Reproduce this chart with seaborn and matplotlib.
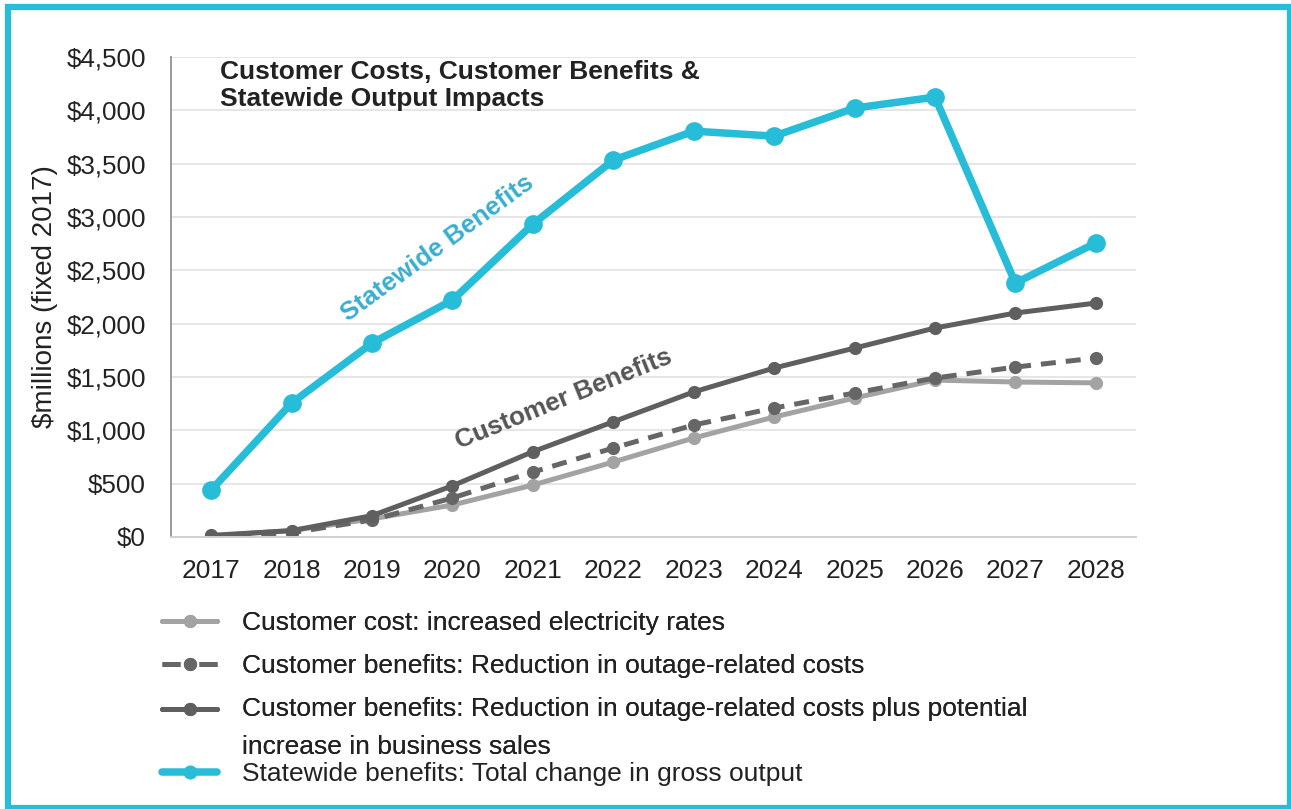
import matplotlib
matplotlib.use("Agg")
import numpy as np
import matplotlib.pyplot as plt
import seaborn as sns
import pandas as pd
from matplotlib.patches import Rectangle
from matplotlib.ticker import FixedLocator, FuncFormatter
from matplotlib.legend_handler import HandlerLine2D

# Annual values, $ millions (fixed 2017)
years = [2017, 2018, 2019, 2020, 2021, 2022, 2023, 2024, 2025, 2026, 2027, 2028]
customer_cost = [10, 60, 170, 300, 487, 703, 928, 1125, 1303, 1471, 1453, 1445]
outage_savings = [5, 40, 160, 366, 609, 834, 1050, 1209, 1350, 1490, 1593, 1678]
outage_plus_sales = [15, 60, 200, 480, 800, 1080, 1360, 1584, 1771, 1959, 2100, 2193]
statewide_output = [440, 1256, 1818, 2221, 2933, 3533, 3805, 3758, 4021, 4124, 2381, 2756]

series_labels = [
    "Customer cost: increased electricity rates",
    "Customer benefits: Reduction in outage-related costs",
    "Customer benefits: Reduction in outage-related costs plus potential\nincrease in business sales",
    "Statewide benefits: Total change in gross output",
]
y_ticks = [0, 500, 1000, 1500, 2000, 2500, 3000, 3500, 4000, 4500]

CYAN = "#27bcd8"
CYAN_TEXT = "#3aaed0"
DARK = "#5f5f5f"
MID = "#666666"
LIGHT = "#a3a3a3"
INK = "#222222"

sns.set_style("white")
plt.rcParams["font.family"] = ["Liberation Sans", "DejaVu Sans"]

df = pd.DataFrame({
    "year": years,
    "cost": customer_cost,
    "outage": outage_savings,
    "outage_sales": outage_plus_sales,
    "statewide": statewide_output,
})

fig = plt.figure(figsize=(12.91, 8.09), dpi=100)
ax = fig.add_axes([171 / 1291, 1 - 537 / 809, 965 / 1291, 480 / 809])

sns.lineplot(data=df, x="year", y="cost", ax=ax, color=LIGHT, lw=3.6,
             marker="o", markersize=9.5, markeredgewidth=0, label=series_labels[0])
sns.lineplot(data=df, x="year", y="outage", ax=ax, color=MID, lw=3.6,
             marker="o", markersize=9.5, markeredgewidth=0, label=series_labels[1])
ax.lines[-1].set_dashes((3, 2))
sns.lineplot(data=df, x="year", y="outage_sales", ax=ax, color=DARK, lw=3.6,
             marker="o", markersize=9.5, markeredgewidth=0, label=series_labels[2])
sns.lineplot(data=df, x="year", y="statewide", ax=ax, color=CYAN, lw=5.4,
             marker="o", markersize=13.5, markeredgewidth=0, label=series_labels[3])

ax.set_xlim(2016.5, 2028.5)
ax.set_ylim(0, 4500)

ax.set_yticks(y_ticks)
ax.yaxis.set_major_formatter(FuncFormatter(lambda v, p: f"${v:,.0f}"))
ax.set_xticks(years)
ax.set_xticklabels([str(y) for y in years])
ax.xaxis.set_minor_locator(FixedLocator([y - 0.5 for y in years] + [years[-1] + 0.5]))
ax.tick_params(axis="x", which="major", length=0, pad=16, labelsize=19, colors=INK)
ax.tick_params(axis="x", which="minor", length=8, width=1.2, color="#cccccc", direction="out")
ax.tick_params(axis="y", which="major", length=0, pad=18, labelsize=18.7, colors=INK)

ax.grid(axis="y", color="#e6e6e6", lw=1.4)
ax.set_axisbelow(True)
for side in ("top", "right"):
    ax.spines[side].set_visible(False)
ax.spines["left"].set_color("#9a9a9a")
ax.spines["left"].set_linewidth(1.4)
ax.spines["bottom"].set_color("#d0d0d0")
ax.spines["bottom"].set_linewidth(1.4)

ax.set_xlabel("")
ax.set_ylabel("$millions (fixed 2017)", fontsize=20, color=INK, labelpad=6)

ax.text(0.051, 0.994, "Customer Costs, Customer Benefits &\nStatewide Output Impacts",
        transform=ax.transAxes, ha="left", va="top", fontsize=19,
        fontweight="bold", color=INK, linespacing=1.15)

ax.text(2019.81, 2705, "Statewide Benefits", rotation=36, rotation_mode="anchor",
        ha="center", va="center", fontsize=18.7, fontweight="bold", color=CYAN_TEXT)
ax.text(2021.38, 1290, "Customer Benefits", rotation=22, rotation_mode="anchor",
        ha="center", va="center", fontsize=18.7, fontweight="bold", color="#555555")


class RaisedLineHandler(HandlerLine2D):
    """Line handle lifted to sit beside the first line of a wrapped label."""

    def __init__(self, lift_pt, **kw):
        super().__init__(**kw)
        self.lift_pt = lift_pt

    def create_artists(self, legend, orig_handle, xdescent, ydescent,
                       width, height, fontsize, trans):
        artists = super().create_artists(legend, orig_handle, xdescent, ydescent,
                                         width, height, fontsize, trans)
        for art in artists:
            art.set_ydata(np.asarray(art.get_ydata()) + self.lift_pt)
        return artists


handles, labels = ax.get_legend_handles_labels()
ax.get_legend().remove()

legend_style = dict(frameon=False, fontsize=19, handlelength=2.1, handletextpad=0.95,
                    numpoints=1, borderpad=0, borderaxespad=0, labelcolor=INK)
row_centers = [623, 666, 728, 774]
x_anchor = 162 / 1291
legends = []
for i, (h, lab) in enumerate(zip(handles, labels)):
    extra = {}
    if i == 2:
        extra["handler_map"] = {h: RaisedLineHandler(lift_pt=13.7, numpoints=1)}
    if i == 3:
        extra["markerscale"] = 0.75
    leg = fig.legend([h], [lab], loc="center left",
                     bbox_to_anchor=(x_anchor, 1 - row_centers[i] / 809),
                     **legend_style, **extra)
    if i == 2:
        leg.get_texts()[0].set_linespacing(1.7)
    legends.append(leg)
for leg in legends[:-1]:
    fig.add_artist(leg)

# legend dashes: one dash either side of the centre marker
legends[1].legend_handles[0].set_dashes((3.6, 3.8))

fig.patches.append(Rectangle((8 / 1291, 1 / 809), 1282 / 1291, 801 / 809,
                             transform=fig.transFigure, fill=False,
                             edgecolor=CYAN, lw=4.5, zorder=10))

fig.savefig("out.png", dpi=100)
